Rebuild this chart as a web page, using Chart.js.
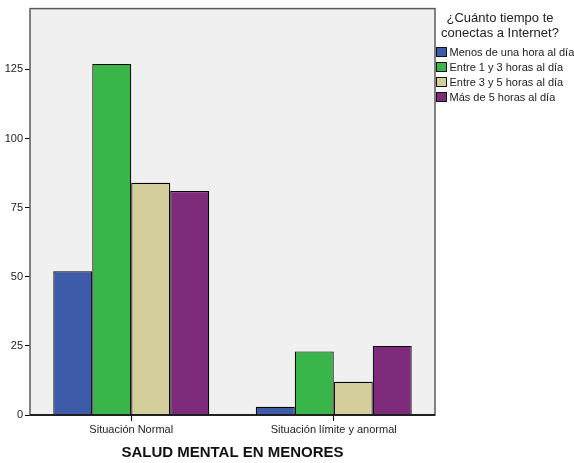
<!DOCTYPE html>
<html>
<head>
<meta charset="utf-8">
<script src="https://cdn.jsdelivr.net/npm/chart.js@4/dist/chart.umd.min.js"></script>
<style>
  html, body { margin: 0; padding: 0; background: #ffffff; }
  #wrap { width: 574px; height: 463px; position: relative; }
</style>
</head>
<body>
<div id="wrap"><canvas id="myChart"></canvas></div>
<script>
//Bar chart: salud mental en menores vs tiempo conectado a Internet

//Data
var categories = ["Situación Normal", "Situación límite y anormal"];
var seriesNames = ["Menos de una hora al día", "Entre 1 y 3 horas al día", "Entre 3 y 5 horas al día", "Más de 5 horas al día"];
var menosUnaHora = [52, 3];
var entre1y3 = [127, 23];
var entre3y5 = [84, 12];
var masDe5 = [81, 25];
var seriesColors = ["#3e5ba9", "#39b54a", "#d3ce9b", "#7d2b7a"];
var yTicks = [0, 25, 50, 75, 100, 125];
var legendTitle = ["¿Cuánto tiempo te", "conectas a Internet?"];
var xTitle = "SALUD MENTAL EN MENORES";

var fontName = "'Liberation Sans', Arial, sans-serif";

//Plot background and frame, plus the legend on the right
var framePlugin = {
    id: "frame",
    beforeDraw: function (chart) {
        var a = chart.chartArea;
        var ctx = chart.ctx;
        ctx.save();
        ctx.fillStyle = "#f0f0f0";
        ctx.fillRect(a.left, a.top, a.right - a.left, a.bottom - a.top);
        ctx.restore();
    },
    afterDraw: function (chart) {
        var a = chart.chartArea;
        var ctx = chart.ctx;
        ctx.save();
        ctx.strokeStyle = "#5a5a5a";
        ctx.lineWidth = 1.5;
        ctx.strokeRect(a.left, a.top, a.right - a.left, a.bottom - a.top);
        ctx.strokeStyle = "#000000";
        ctx.beginPath();
        ctx.moveTo(a.left, a.bottom);
        ctx.lineTo(a.right, a.bottom);
        ctx.stroke();

        //legend title
        ctx.fillStyle = "#222222";
        ctx.textAlign = "center";
        ctx.textBaseline = "middle";
        ctx.font = "13px " + fontName;
        for (var i = 0; i < legendTitle.length; i++) {
            ctx.fillText(legendTitle[i], 500, 18 + i * 15);
        }
        //legend items
        ctx.font = "11px " + fontName;
        ctx.textAlign = "left";
        chart.data.datasets.forEach(function (ds, k) {
            var y = 52 + k * 15;
            ctx.fillStyle = ds.backgroundColor;
            ctx.fillRect(436, y - 5, 11, 10);
            ctx.strokeStyle = "#111111";
            ctx.lineWidth = 1;
            ctx.strokeRect(436.5, y - 4.5, 10, 9);
            ctx.fillStyle = "#222222";
            ctx.fillText(ds.label, 449.5, y + 0.5);
        });
        ctx.restore();
    }
};

var seriesValues = [menosUnaHora, entre1y3, entre3y5, masDe5];
var datasets = seriesNames.map(function (name, i) {
    return {
        label: name,
        data: seriesValues[i],
        backgroundColor: seriesColors[i],
        borderColor: "#000000",
        borderWidth: 1.2,
        categoryPercentage: 0.77,
        barPercentage: 1.0
    };
});

var infoChart = new Chart("myChart", {
    type: "bar",
    data: {
        labels: categories,
        datasets: datasets
    },
    options: {
        responsive: true,
        maintainAspectRatio: false,
        animation: false,
        layout: { padding: { top: 5, right: 139, left: 0, bottom: 0 } },
        plugins: {
            legend: { display: false },
            tooltip: { enabled: false }
        },
        scales: {
            x: {
                grid: {
                    offset: false,
                    drawOnChartArea: false,
                    tickLength: 6,
                    color: "#000000"
                },
                border: { display: false },
                ticks: {
                    color: "#222222",
                    padding: 2,
                    font: { family: fontName, size: 11 }
                },
                title: {
                    display: true,
                    text: xTitle,
                    color: "#111111",
                    font: { family: fontName, size: 15, weight: "bold" },
                    padding: { top: 5, bottom: 1 }
                },
                afterFit: function (s) { s.height = 48; }
            },
            y: {
                min: 0,
                max: 147,
                grid: {
                    drawOnChartArea: false,
                    tickLength: 5,
                    color: "#000000"
                },
                border: { display: false },
                ticks: {
                    stepSize: 25,
                    includeBounds: false,
                    color: "#222222",
                    padding: 2,
                    font: { family: fontName, size: 11 }
                },
                afterBuildTicks: function (s) {
                    s.ticks = yTicks.map(function (v) { return { value: v }; });
                },
                afterFit: function (s) { s.width = 30; }
            }
        }
    },
    plugins: [framePlugin]
});
</script>
</body>
</html>
